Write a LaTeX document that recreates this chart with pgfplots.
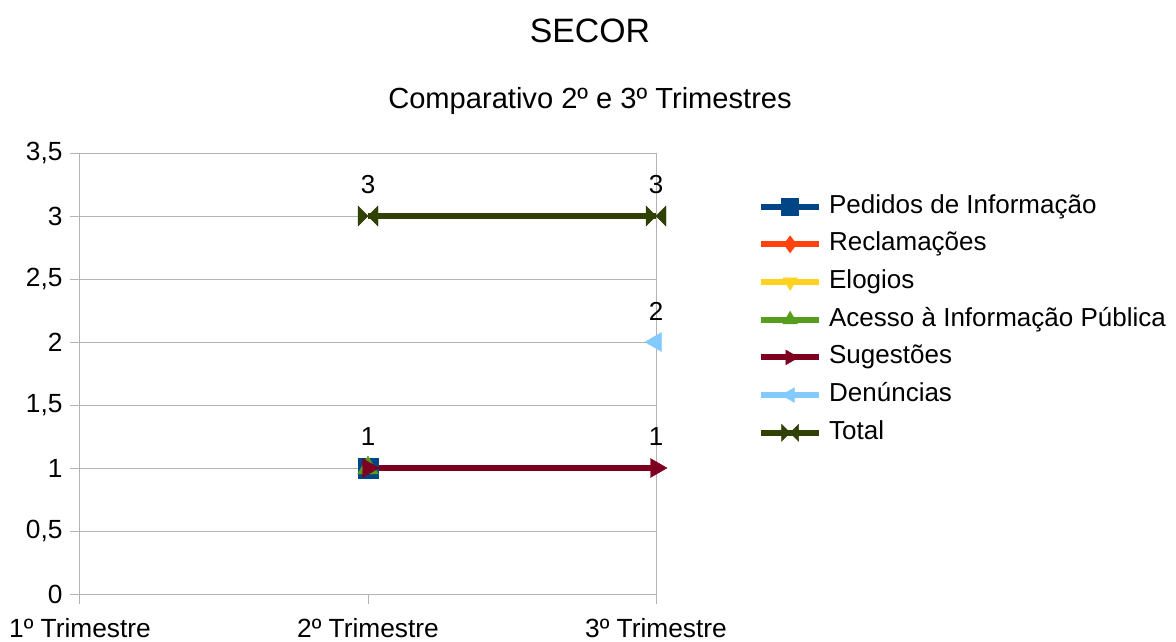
\documentclass[border=0pt]{standalone}
\usepackage{fontspec}
\setmainfont{Liberation Sans}
\usepackage{pgfplots}
\pgfplotsset{compat=1.18}
\definecolor{cPed}{HTML}{004586}
\definecolor{cRec}{HTML}{FF420E}
\definecolor{cElo}{HTML}{FFD320}
\definecolor{cAce}{HTML}{579D1C}
\definecolor{cSug}{HTML}{7E0021}
\definecolor{cDen}{HTML}{83CAFF}
\definecolor{cTot}{HTML}{314004}
\definecolor{cGrid}{HTML}{B3B3B3}
\pgfdeclareplotmark{bowtie}{%
  \pgfpathmoveto{\pgfqpoint{-\pgfplotmarksize}{\pgfplotmarksize}}%
  \pgfpathlineto{\pgfqpoint{\pgfplotmarksize}{-\pgfplotmarksize}}%
  \pgfpathlineto{\pgfqpoint{\pgfplotmarksize}{\pgfplotmarksize}}%
  \pgfpathlineto{\pgfqpoint{-\pgfplotmarksize}{-\pgfplotmarksize}}%
  \pgfpathclose\pgfusepathqfillstroke}
\begin{document}
\begin{tikzpicture}
\useasboundingbox (0pt,0pt) rectangle (1176pt,-642pt);
\node[font=\fontsize{33.8}{40}\selectfont] at (590pt,-31pt) {SECOR};
\node[font=\fontsize{29.1}{34}\selectfont] at (590pt,-101pt) {Comparativo 2º e 3º Trimestres};
\begin{axis}[
  at={(80pt,-594pt)}, anchor=south west,
  scale only axis, width=576pt, height=441pt,
  xmin=0, xmax=2, ymin=0, ymax=3.5,
  xtick={0,1,2},
  xticklabels={1º Trimestre,2º Trimestre,3º Trimestre},
  ytick={0,0.5,1,1.5,2,2.5,3,3.5},
  /pgf/number format/.cd, use comma, assume math mode=true, /pgfplots/.cd,
  ymajorgrids, grid style={cGrid, line width=1pt},
  axis line style={cGrid, line width=1pt},
  tick style={cGrid, line width=1pt},
  tick align=outside, tick pos=left, major tick length=10pt,
  ticklabel style={font=\fontsize{26.3}{30}\selectfont, text=black},
  yticklabel style={xshift=-4pt},
  xticklabel style={yshift=-11pt},
  clip=false,
  every node near coord/.append style={font=\fontsize{26}{30}\selectfont, text=black, anchor=center, yshift=31pt},
  legend image code/.code={\draw[#1, mark size=8.5pt, mark repeat=2, mark phase=2] plot coordinates {(0pt,0pt)(29pt,0pt)(58pt,0pt)};},
  legend cell align=left,
  legend style={at={(1.177,0.905)}, anchor=north west, draw=none, fill=none, inner sep=0pt,
    font=\fontsize{26}{30}\selectfont, row sep=14.7pt, column sep=7pt,
    nodes={inner sep=0pt, text height=18pt, text depth=5pt}},
]
\addplot[cPed, line width=6pt, mark=square*, mark size=10pt, mark options={line width=0.4pt, fill=cPed}] coordinates {(1,1)};
\addlegendentry{Pedidos de Informação}
\addlegendimage{cRec, line width=6pt, mark=diamond*, mark size=10pt, mark options={line width=0.4pt, fill=cRec}}
\addlegendentry{Reclamações}
\addlegendimage{cElo, line width=6pt, mark=triangle*, mark size=10pt, mark options={line width=0.4pt, fill=cElo, rotate=180}}
\addlegendentry{Elogios}
\addplot[cAce, line width=6pt, mark=triangle*, mark size=12pt, mark options={line width=0.4pt, fill=cAce}] coordinates {(1,1)};
\addlegendentry{Acesso à Informação Pública}
\addplot[cSug, line width=6pt, mark=triangle*, mark size=11pt, mark options={line width=0.4pt, fill=cSug, rotate=-90}, nodes near coords] coordinates {(1,1)(2,1)};
\addlegendentry{Sugestões}
\addplot[cDen, line width=6pt, mark=triangle*, mark size=11pt, mark options={line width=0.4pt, fill=cDen, rotate=90}, nodes near coords] coordinates {(2,2)};
\addlegendentry{Denúncias}
\addplot[cTot, line width=6pt, mark=bowtie, mark size=10pt, mark options={line width=0.4pt, fill=cTot}, nodes near coords] coordinates {(1,3)(2,3)};
\addlegendentry{Total}
\end{axis}
\end{tikzpicture}
\end{document}
